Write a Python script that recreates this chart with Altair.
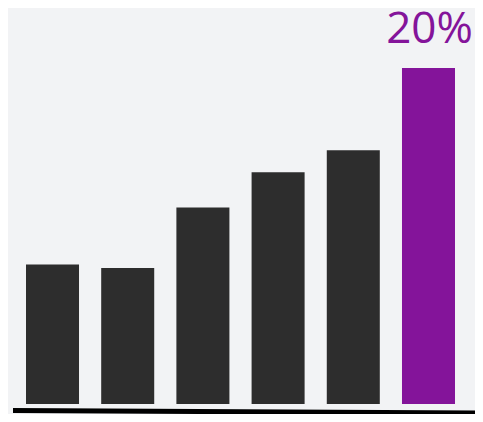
import altair as alt
import pandas as pd

categories = ["A", "B", "C", "D", "E", "F"]
values = [8.3, 8.1, 11.7, 13.8, 15.1, 20.0]
labels = ["", "", "", "", "", "20%"]
highlight = [False, False, False, False, False, True]

df = pd.DataFrame({"cat": categories, "value": values, "label": labels, "hl": highlight})

xscale = alt.Scale(range=[18, 447], paddingInner=0.295, paddingOuter=0)
x = alt.X("cat:N", sort=categories, axis=None, scale=xscale)
y = alt.Y("value:Q", axis=None, scale=alt.Scale(domain=[0, 20], range=[396, 60]))

bars = alt.Chart(df).mark_bar().encode(
    x=x, y=y,
    color=alt.Color("hl:N", scale=alt.Scale(domain=[False, True], range=["#2d2d2d", "#84149a"]), legend=None),
)

text = alt.Chart(df).transform_filter("datum.label != ''").mark_text(
    font="Open Sans", fontSize=44, color="#84149a", baseline="alphabetic", dy=-25, dx=1
).encode(x=alt.X("cat:N", sort=categories, axis=None, scale=xscale, bandPosition=0.5),
         y=y, text="label:N")

base_line = alt.Chart(pd.DataFrame({"v": [0]})).mark_rule(color="#000000", strokeWidth=5).encode(
    x=alt.value(5), y=alt.value(402.5), x2=alt.value(467), y2=alt.value(405)
)

chart = alt.layer(bars, text, base_line).properties(
    width=467, height=406, background="#f2f3f5",
    autosize=alt.AutoSizeParams(type="none"), padding=0
).configure_view(stroke=None)

chart.save("out.html", embed_options={"renderer": "svg", "actions": False})
